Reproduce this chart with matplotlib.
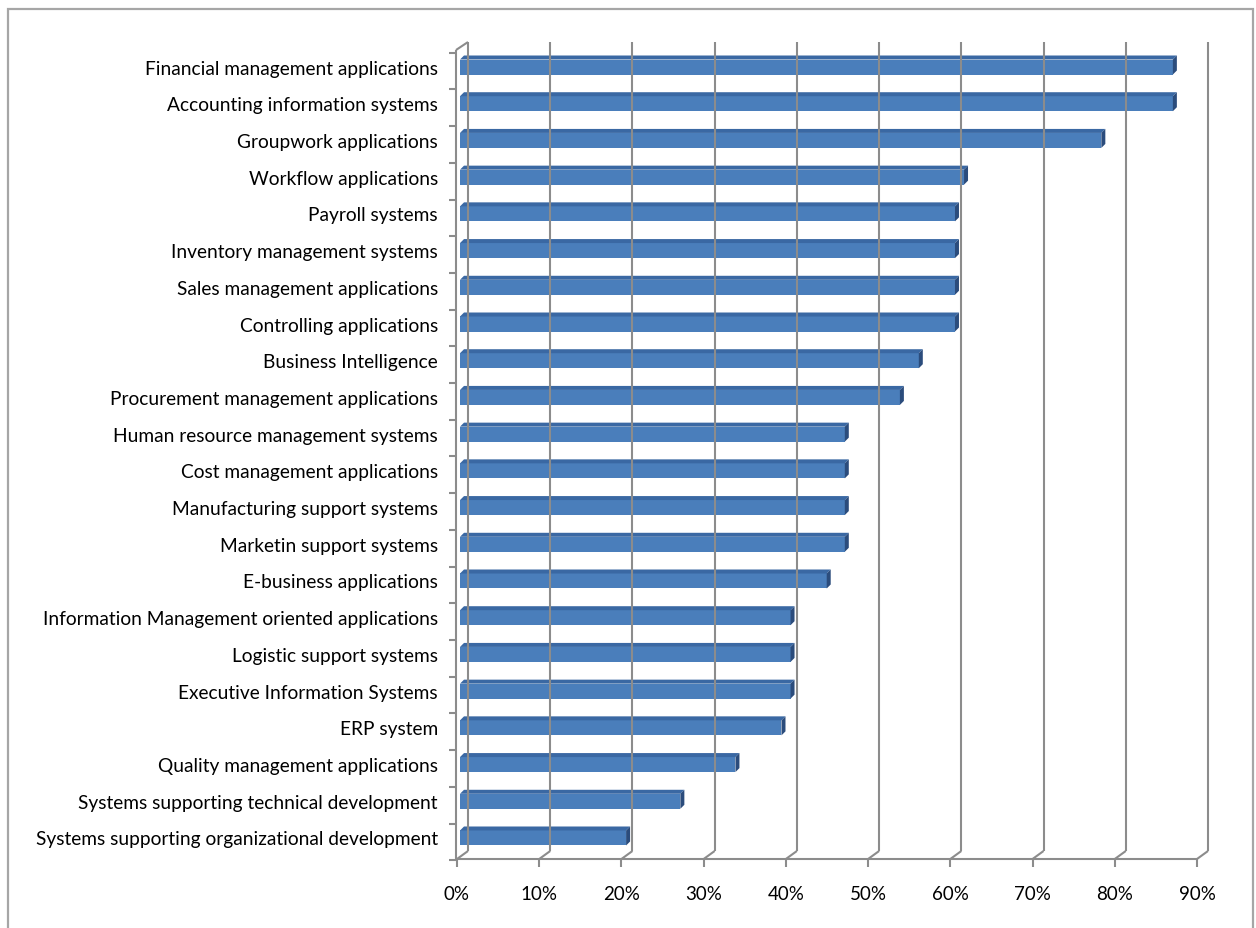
import matplotlib
matplotlib.use("Agg")
import matplotlib.pyplot as plt
from matplotlib.patches import Polygon, Rectangle
from matplotlib.lines import Line2D
from matplotlib.transforms import IdentityTransform
import numpy as np

# ---------------- data ----------------
categories = [
    "Financial management applications",
    "Accounting information systems",
    "Groupwork applications",
    "Workflow applications",
    "Payroll systems",
    "Inventory management systems",
    "Sales management applications",
    "Controlling applications",
    "Business Intelligence",
    "Procurement management applications",
    "Human resource management systems",
    "Cost management applications",
    "Manufacturing support systems",
    "Marketin support systems",
    "E-business applications",
    "Information Management oriented applications",
    "Logistic support systems",
    "Executive Information Systems",
    "ERP system",
    "Quality management applications",
    "Systems supporting technical development",
    "Systems supporting organizational development",
]
values = [86.7, 86.7, 78.0, 61.3, 60.2, 60.2, 60.2, 60.2, 55.8, 53.5,
          46.8, 46.8, 46.8, 46.8, 44.6, 40.2, 40.2, 40.2, 39.1, 33.5,
          26.8, 20.2]
xticks = [0, 10, 20, 30, 40, 50, 60, 70, 80, 90]
xtick_labels = [f"{t}%" for t in xticks]

# ---------------- styling ----------------
W, H, DPI = 1256, 929, 100
FRONT = "#4A7EBB"
TOP = "#3A68A3"
SIDE = "#2B4C7C"
GRID = "#8C8C8C"
FONT = ["Lato", "DejaVu Sans"]

fig = plt.figure(figsize=(W / DPI, H / DPI), dpi=DPI)
fig.patch.set_facecolor("white")

# outer chart frame
fig.patches.append(Rectangle((8 / W, -0.02), (1253 - 8) / W, 1 - 10 / H + 0.02,
                             transform=fig.transFigure, fill=False,
                             edgecolor="#A6A6A6", lw=1.6))

# axes geometry (pixels from top-left)
x0_px, x90_px = 457, 1197
floor_px, top_px = 860, 51
ax = fig.add_axes([x0_px / W, 1 - floor_px / H, (x90_px - x0_px) / W,
                   (floor_px - top_px) / H])
n = len(categories)
ypos = np.arange(n)[::-1].astype(float)
ppu = 36.71  # pixels per category unit
ymin = -21.0 / ppu
ymax = (n - 1) + (68 - top_px) / ppu
ax.set_xlim(xticks[0], xticks[-1])
ax.set_ylim(ymin, ymax)
ax.axis("off")

fig.canvas.draw()
td = ax.transData
sx = (x90_px - x0_px) / (xticks[-1] - xticks[0])  # px per %
wall_dx, wall_dy = 11, 8


def disp(x, y):
    return td.transform((x, y))


def line_px(p1, p2, **kw):
    l = Line2D([p1[0], p2[0]], [p1[1], p2[1]], transform=IdentityTransform(),
               clip_on=False, color=GRID, lw=1.5, solid_capstyle="butt", **kw)
    fig.add_artist(l)

# back wall gridlines + floor diagonals + floor ticks
for t, lab in zip(xticks, xtick_labels):
    f = disp(t, ymin)
    top = disp(t, ymax)
    line_px((f[0] + wall_dx, f[1] + wall_dy), (top[0] + wall_dx, top[1] + wall_dy), zorder=1)
    line_px(f, (f[0] + wall_dx, f[1] + wall_dy), zorder=1)
    line_px(f, (f[0], f[1] - 8), zorder=1)
    fig.text(f[0] / W, (f[1] - 35) / H, lab, ha="center", va="center",
             fontsize=13.5, family=FONT, color="black")

# floor front line
a = disp(xticks[0], ymin)
b = disp(xticks[-1], ymin)
line_px(a, b, zorder=1)

# left axis line + top diagonal + ticks
lt = disp(xticks[0], ymax)
line_px((a[0] - 1, a[1]), (lt[0] - 1, lt[1]), zorder=1)
line_px((lt[0] - 1, lt[1]), (lt[0] + wall_dx, lt[1] + wall_dy), zorder=1)
for yb in np.arange(-0.5, n, 1.0):
    p = disp(0, yb)
    line_px((p[0] - 8, p[1] - 4), (p[0] - 1, p[1] - 4), zorder=1)

# bars (front face, top face, side face)
h = 7.5 / ppu
dxu = 4.0 / sx
dyu = 4.0 / ppu
left = 3.0 / sx
ax.barh(ypos, values, height=2 * h, left=left, color=FRONT, edgecolor="none",
        zorder=5, clip_on=False)
for c, v in zip(ypos, values):
    ax.add_patch(Polygon([(left, c + h), (left + v, c + h), (left + v + dxu, c + h + dyu),
                          (left + dxu, c + h + dyu)], closed=True, facecolor=TOP,
                         edgecolor="none", zorder=5, clip_on=False))
    ax.add_patch(Polygon([(left + v, c - h), (left + v, c + h), (left + v + dxu, c + h + dyu),
                          (left + v + dxu, c - h + dyu)], closed=True, facecolor=SIDE,
                         edgecolor="none", zorder=5, clip_on=False))

# category labels
for c, lab in zip(ypos, categories):
    p = disp(0, c)
    fig.text((p[0] - 19) / W, (p[1] - 1) / H, lab, ha="right", va="center",
             fontsize=13.8, family=FONT, color="black")

fig.savefig("out.png", dpi=DPI, facecolor="white")
